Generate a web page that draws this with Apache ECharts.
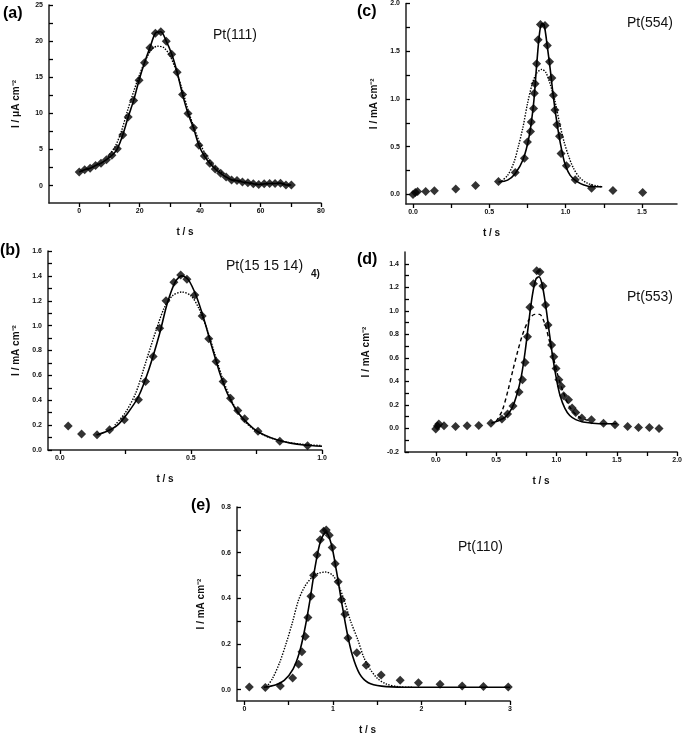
<!DOCTYPE html>
<html><head><meta charset="utf-8">
<script src="https://cdn.jsdelivr.net/npm/echarts@6/dist/echarts.min.js"></script>
<style>html,body{margin:0;padding:0;background:#fff}#c{width:685px;height:736px}</style>
</head><body><div id="c"></div>
<script>
// ---------- Panel (a) Pt(111) ----------
const aT = [0,1.8,3.6,5.4,7.2,9,10.8,12.6,14.4,16.2,18,19.8,21.6,23.4,25.2,27,28.8,30.6,32.4,34.2,36,37.8,39.6,41.4,43.2,45,46.8,48.6,50.4,52.2,54,55.8,57.6,59.4,61.2,63,64.8,66.6,68.4,70.2];
const aI = [1.9,2.2,2.4,2.8,3.1,3.6,4.2,5.1,7.0,9.5,11.8,14.6,17.0,19.1,21.1,21.3,20.0,18.2,15.7,12.6,10.0,8.0,5.6,4.1,3.1,2.3,1.7,1.2,0.8,0.7,0.5,0.4,0.25,0.15,0.25,0.3,0.3,0.35,0.1,0.1];
const aDotT = [9.5,12,14,16,18,20,22,24,26,28,30,32,34,36,38,40,42,44,46,48];
const aDotI = [4.0,5.5,7.6,10.4,13.0,15.4,17.4,18.9,19.3,19.1,18.0,16.0,13.4,10.5,8.0,5.8,4.2,3.0,2.2,1.6];
const aXTicks = [0,20,40,60,80];
const aYTicks = [0,5,10,15,20,25];

// ---------- Panel (b) Pt(15 15 14) ----------
const bT = [0.032,0.083,0.142,0.19,0.246,0.30,0.327,0.356,0.381,0.405,0.435,0.461,0.485,0.515,0.543,0.568,0.596,0.623,0.651,0.679,0.705,0.756,0.839,0.945];
const bI = [0.193,0.128,0.123,0.163,0.243,0.404,0.551,0.752,0.979,1.199,1.349,1.407,1.373,1.247,1.078,0.894,0.712,0.551,0.417,0.318,0.252,0.15,0.07,0.035];
const bFitT = [0.14,0.18,0.22,0.26,0.30,0.34,0.38,0.41,0.44,0.465,0.49,0.52,0.55,0.58,0.61,0.64,0.67,0.70,0.74,0.78,0.83,0.88,0.93,1.0];
const bFitI = [0.12,0.15,0.20,0.30,0.43,0.65,0.93,1.18,1.35,1.40,1.37,1.24,1.05,0.83,0.62,0.45,0.33,0.25,0.17,0.12,0.08,0.055,0.04,0.03];
const bDotT = [0.21,0.25,0.29,0.33,0.37,0.40,0.43,0.465,0.50,0.53,0.56,0.59,0.62,0.65,0.68,0.71,0.75,0.80,0.86,0.93,1.0];
const bDotI = [0.20,0.30,0.46,0.72,0.98,1.15,1.24,1.27,1.24,1.14,0.98,0.78,0.58,0.42,0.30,0.22,0.15,0.10,0.065,0.045,0.035];
const bXTicks = [0.0,0.5,1.0];
const bYTicks = [0.0,0.2,0.4,0.6,0.8,1.0,1.2,1.4,1.6];

// ---------- Panel (c) Pt(554) ----------
const cT = [0,0.015,0.03,0.083,0.14,0.28,0.41,0.56,0.67,0.73,0.75,0.77,0.775,0.79,0.795,0.80,0.81,0.82,0.835,0.865,0.88,0.895,0.91,0.92,0.93,0.943,0.96,0.97,1.005,1.063,1.17,1.31,1.505];
const cI = [0.0,0.02,0.03,0.03,0.04,0.056,0.094,0.136,0.23,0.38,0.55,0.66,0.76,0.90,1.06,1.16,1.37,1.62,1.78,1.77,1.56,1.39,1.22,1.04,0.885,0.73,0.61,0.43,0.30,0.153,0.066,0.042,0.02];
const cFitT = [0.56,0.62,0.67,0.72,0.76,0.79,0.81,0.83,0.845,0.86,0.88,0.90,0.92,0.95,0.98,1.0,1.03,1.07,1.12,1.18,1.24];
const cFitI = [0.13,0.15,0.22,0.36,0.60,0.95,1.35,1.70,1.79,1.77,1.55,1.30,1.02,0.68,0.42,0.30,0.20,0.14,0.10,0.08,0.08];
const cDotT = [0.58,0.62,0.66,0.69,0.72,0.75,0.78,0.81,0.845,0.87,0.90,0.93,0.96,0.99,1.02,1.05,1.09,1.14,1.20,1.24];
const cDotI = [0.14,0.20,0.33,0.50,0.70,0.95,1.15,1.27,1.31,1.28,1.15,0.98,0.75,0.55,0.40,0.28,0.18,0.12,0.09,0.08];
const cXTicks = [0.0,0.5,1.0,1.5];
const cYTicks = [0.0,0.5,1.0,1.5,2.0];

// ---------- Panel (d) Pt(553) ----------
const dT = [0,0.014,0.025,0.068,0.164,0.26,0.356,0.457,0.548,0.595,0.64,0.69,0.718,0.74,0.76,0.78,0.81,0.836,0.863,0.888,0.91,0.93,0.96,0.978,0.997,1.02,1.04,1.06,1.10,1.13,1.16,1.21,1.29,1.39,1.485,1.59,1.68,1.77,1.85];
const dI = [-0.005,0.02,0.037,0.023,0.017,0.023,0.026,0.045,0.08,0.122,0.19,0.31,0.415,0.56,0.78,1.03,1.23,1.34,1.33,1.21,1.05,0.88,0.71,0.61,0.51,0.415,0.358,0.278,0.244,0.173,0.136,0.088,0.074,0.045,0.031,0.017,0.009,0.009,0.0];
const dFitT = [0.46,0.52,0.58,0.63,0.67,0.71,0.74,0.77,0.80,0.83,0.855,0.88,0.91,0.94,0.97,1.0,1.03,1.07,1.11,1.16,1.22,1.30,1.40,1.50];
const dFitI = [0.045,0.065,0.10,0.17,0.28,0.45,0.65,0.90,1.13,1.27,1.29,1.23,1.05,0.82,0.60,0.42,0.28,0.17,0.11,0.075,0.055,0.045,0.04,0.04];
const dDashT = [0.50,0.55,0.60,0.64,0.68,0.72,0.77,0.82,0.86,0.90,0.94,0.98,1.02,1.06,1.10,1.15,1.20,1.26];
const dDashI = [0.06,0.15,0.33,0.50,0.66,0.80,0.92,0.97,0.97,0.90,0.75,0.58,0.42,0.30,0.20,0.13,0.09,0.07];
const dXTicks = [0.0,0.5,1.0,1.5,2.0];
const dYTicks = [-0.2,0.0,0.2,0.4,0.6,0.8,1.0,1.2,1.4];

// ---------- Panel (e) Pt(110) ----------
const eT = [0.056,0.237,0.406,0.545,0.613,0.65,0.688,0.718,0.752,0.782,0.82,0.857,0.895,0.925,0.959,0.992,1.026,1.06,1.098,1.135,1.17,1.27,1.376,1.545,1.76,1.966,2.21,2.46,2.70,2.98];
const eI = [0.011,0.009,0.016,0.051,0.111,0.166,0.233,0.316,0.409,0.501,0.59,0.656,0.694,0.699,0.676,0.623,0.551,0.473,0.394,0.33,0.226,0.161,0.107,0.064,0.041,0.03,0.023,0.016,0.013,0.011];
const eFitT = [0.22,0.35,0.45,0.55,0.62,0.68,0.74,0.80,0.86,0.92,0.98,1.04,1.10,1.16,1.22,1.30,1.40,1.55,1.80,2.2,3.0];
const eFitI = [0.01,0.02,0.04,0.09,0.16,0.26,0.39,0.54,0.65,0.69,0.64,0.52,0.38,0.25,0.15,0.07,0.03,0.015,0.01,0.01,0.01];
const eDotT = [0.25,0.32,0.40,0.47,0.54,0.61,0.68,0.76,0.84,0.92,1.0,1.06,1.12,1.20,1.28,1.35,1.42,1.50,1.60,1.75,1.90];
const eDotI = [0.01,0.05,0.12,0.20,0.29,0.39,0.45,0.49,0.51,0.515,0.50,0.46,0.40,0.30,0.22,0.14,0.09,0.05,0.025,0.012,0.01];
const eXTicks = [0,1,2,3];
const eYTicks = [0.0,0.2,0.4,0.6,0.8];

const zip = (x, y) => x.map((v, i) => [v, y[i]]);
const FONT = 'Liberation Sans, Arial, sans-serif';
const between = (ticks) => { const r = []; for (let i = 0; i < ticks.length; i++) { r.push(ticks[i]); if (i < ticks.length - 1) r.push(+((ticks[i] + ticks[i+1]) / 2).toFixed(4)); } return r; };

function xAx(grid, min, max, ticks, dec, padRight) {
  return {
    type: 'value', gridIndex: grid, min, max,
    name: 't / s', nameLocation: 'middle', nameGap: 24,
    nameTextStyle: { fontFamily: FONT, fontWeight: 'bold', fontSize: 10, color: '#111', padding: [0, padRight || 0, 0, 0] },
    axisLine: { show: true, onZero: false, lineStyle: { color: '#222', width: 1.5 } },
    axisTick: { show: true, inside: false, length: 4, customValues: between(ticks), lineStyle: { color: '#000', width: 1.3 } },
    axisLabel: { customValues: ticks, formatter: v => v.toFixed(dec), fontFamily: FONT, fontWeight: 'bold', fontSize: 7, color: '#111', margin: 5 },
    splitLine: { show: false }
  };
}
function yAx(grid, min, max, ticks, dec, name, gap, minor) {
  return {
    type: 'value', gridIndex: grid, min, max,
    name, nameLocation: 'middle', nameGap: gap, nameRotate: 90,
    nameTextStyle: { fontFamily: FONT, fontWeight: 'bold', fontSize: 10, color: '#111' },
    axisLine: { show: true, onZero: false, lineStyle: { color: '#222', width: 1.5 } },
    axisTick: { show: true, inside: true, length: 4, customValues: minor || between(ticks), lineStyle: { color: '#000', width: 1.3 } },
    axisLabel: { customValues: ticks, formatter: v => v.toFixed(dec), fontFamily: FONT, fontWeight: 'bold', fontSize: 7, color: '#111', margin: 6 },
    splitLine: { show: false }
  };
}
function pts(i, data) {
  return { type: 'scatter', xAxisIndex: i, yAxisIndex: i, data, symbol: 'diamond', symbolSize: 9, itemStyle: { color: '#000' }, z: 5 };
}
function curve(i, data, type, w) {
  return { type: 'line', xAxisIndex: i, yAxisIndex: i, data, symbol: 'none', smooth: 0.3,
    lineStyle: { color: '#000', width: w || 1.4, type: type || 'solid' }, z: 3 };
}

const option = {
  backgroundColor: '#fff',
  animation: false,
  grid: [
    { left: 49, top: 5, width: 272, height: 198 },
    { left: 48, top: 251, width: 274, height: 199 },
    { left: 406, top: 3, width: 271, height: 201 },
    { left: 405, top: 252, width: 274, height: 200 },
    { left: 237, top: 507, width: 273, height: 198 }
  ],
  xAxis: [
    xAx(0, -10, 80, aXTicks, 0, 0),
    xAx(1, -0.045, 1.0, bXTicks, 1, 40),
    xAx(2, -0.046, 1.73, cXTicks, 1, 100),
    xAx(3, -0.255, 2.0, dXTicks, 1, 0),
    xAx(4, -0.083, 3, eXTicks, 0, 12)
  ],
  yAxis: [
    yAx(0, -2.4, 25, aYTicks, 0, 'I / μA cm⁻²', 28, [0,2.5,5,7.5,10,12.5,15,17.5,20,22.5,25]),
    yAx(1, 0, 1.6, bYTicks, 1, 'I / mA cm⁻²', 27),
    yAx(2, -0.1, 2.0, cYTicks, 1, 'I / mA cm⁻²', 27),
    yAx(3, -0.2, 1.5, dYTicks, 1, 'I / mA cm⁻²', 34),
    yAx(4, -0.05, 0.8, eYTicks, 1, 'I / mA cm⁻²', 31)
  ],
  series: [
    curve(0, zip(aT, aI), 'solid', 1.6),
    curve(0, zip(aDotT, aDotI), 'dotted', 1.4),
    pts(0, zip(aT, aI)),
    curve(1, zip(bFitT, bFitI), 'solid', 1.6),
    curve(1, zip(bDotT, bDotI), 'dotted', 1.4),
    pts(1, zip(bT, bI)),
    curve(2, zip(cFitT, cFitI), 'solid', 1.6),
    curve(2, zip(cDotT, cDotI), 'dotted', 1.4),
    pts(2, zip(cT, cI)),
    curve(3, zip(dFitT, dFitI), 'solid', 1.6),
    curve(3, zip(dDashT, dDashI), [4, 3], 1.4),
    pts(3, zip(dT, dI)),
    curve(4, zip(eFitT, eFitI), 'solid', 1.6),
    curve(4, zip(eDotT, eDotI), 'dotted', 1.4),
    pts(4, zip(eT, eI))
  ],
  graphic: [
    { type: 'text', left: 3, top: 6, style: { text: '(a)', font: 'bold 16px ' + FONT, fill: '#000' } },
    { type: 'text', left: 357, top: 4, style: { text: '(c)', font: 'bold 16px ' + FONT, fill: '#000' } },
    { type: 'text', left: 0, top: 243, style: { text: '(b)', font: 'bold 16px ' + FONT, fill: '#000' } },
    { type: 'text', left: 357, top: 252, style: { text: '(d)', font: 'bold 16px ' + FONT, fill: '#000' } },
    { type: 'text', left: 191, top: 498, style: { text: '(e)', font: 'bold 16px ' + FONT, fill: '#000' } },
    { type: 'text', left: 213, top: 28, style: { text: 'Pt(111)', font: '14px ' + FONT, fill: '#111' } },
    { type: 'text', left: 226, top: 259, style: { text: 'Pt(15 15 14)', font: '14px ' + FONT, fill: '#111' } },
    { type: 'text', left: 311, top: 269, style: { text: '4)', font: 'bold 10px ' + FONT, fill: '#111' } },
    { type: 'text', left: 627, top: 16, style: { text: 'Pt(554)', font: '14px ' + FONT, fill: '#111' } },
    { type: 'text', left: 627, top: 290, style: { text: 'Pt(553)', font: '14px ' + FONT, fill: '#111' } },
    { type: 'text', left: 458, top: 540, style: { text: 'Pt(110)', font: '14px ' + FONT, fill: '#111' } }
  ]
};
const chart = echarts.init(document.getElementById('c'), null, { renderer: 'canvas' });
chart.setOption(option);
</script></body></html>
